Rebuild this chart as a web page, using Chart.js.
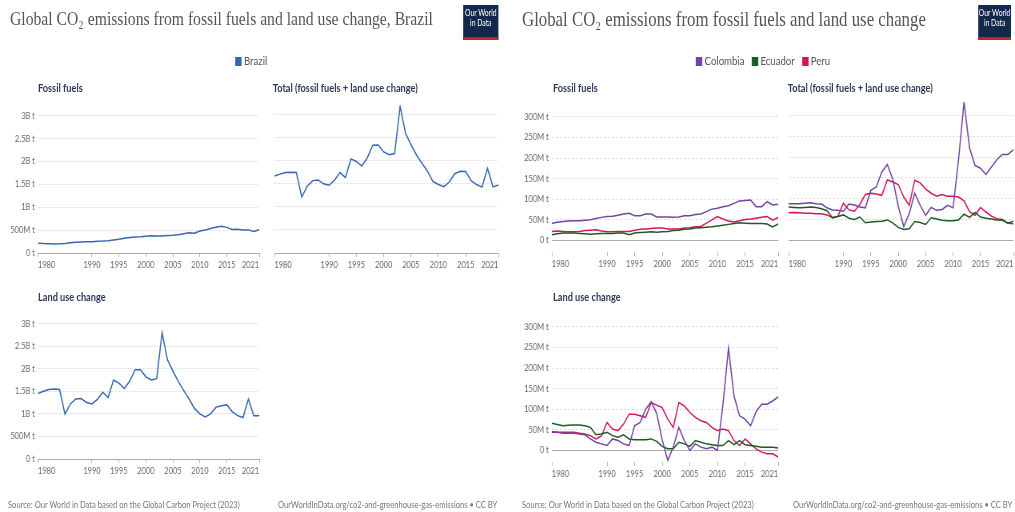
<!DOCTYPE html>
<html>
<head>
<meta charset="utf-8">
<script src="https://cdn.jsdelivr.net/npm/chart.js@4.4.0/dist/chart.umd.min.js"></script>
<style>
  body { margin: 0; width: 1015px; height: 512px; background: #fff; overflow: hidden; font-family: Lato, "Noto Sans", sans-serif; }
  .panel { position: absolute; top: 0; height: 512px; transform-origin: 0 0; transform: scaleX(0.8); }
  .title { position: absolute; top: 8px; font-family: "Liberation Serif", serif; font-size: 19.6px; color: #555; white-space: nowrap; }
  .logo { position: absolute; top: 5px; width: 44px; height: 28px; padding-top: 4px; background: #13294b; border-bottom: 3px solid #c8202e;
          color: #fff; font-size: 8.5px; line-height: 9.5px; text-align: center; }
  .legend { position: absolute; top: 53px; font-size: 12px; color: #555; white-space: nowrap; }
  .legend .sw { display: inline-block; width: 8px; height: 9px; vertical-align: -1px; margin-right: 3px; }
  .legend .item { margin-right: 9px; }
  .sub { position: absolute; font-weight: bold; font-size: 11.5px; color: #2b3a5a; white-space: nowrap; }
  .foot { position: absolute; top: 499px; font-size: 9.5px; color: #777; white-space: nowrap; }
  canvas { position: absolute; }
</style>
</head>
<body>

<div class="panel" id="pl" style="left:0;width:634px">
  <div class="title" style="left:12.5px">Global CO₂ emissions from fossil fuels and land use change, Brazil</div>
  <div class="logo" style="left:579px">Our World<br>in Data</div>
  <div class="legend" style="left:294px"><span class="item"><span class="sw" style="background:#3567b0"></span>Brazil</span></div>
  <div class="sub" style="left:47.5px;top:81px">Fossil fuels</div>
  <div class="sub" style="left:341px;top:81px">Total (fossil fuels + land use change)</div>
  <div class="sub" style="left:47.5px;top:290px">Land use change</div>
  <canvas id="brFossil"></canvas>
  <canvas id="brTotal"></canvas>
  <canvas id="brLand"></canvas>
  <div class="foot" style="left:10px">Source: Our World in Data based on the Global Carbon Project (2023)</div>
  <div class="foot" style="left:347.5px">OurWorldInData.org/co2-and-greenhouse-gas-emissions • CC BY</div>
</div>

<div class="panel" id="pr" style="left:507px;width:635px">
  <div class="title" style="left:18.75px;font-size:21px;top:7px">Global CO₂ emissions from fossil fuels and land use change</div>
  <div class="logo" style="left:589px;width:41px">Our World<br>in Data</div>
  <div class="legend" style="left:236px">
    <span class="item"><span class="sw" style="background:#7044a0"></span>Colombia</span><span class="item"><span class="sw" style="background:#1e5a23"></span>Ecuador</span><span class="item"><span class="sw" style="background:#d1165f"></span>Peru</span>
  </div>
  <div class="sub" style="left:57.5px;top:81px">Fossil fuels</div>
  <div class="sub" style="left:351px;top:81px">Total (fossil fuels + land use change)</div>
  <div class="sub" style="left:57.5px;top:290px">Land use change</div>
  <canvas id="saFossil"></canvas>
  <canvas id="saTotal"></canvas>
  <canvas id="saLand"></canvas>
  <div class="foot" style="left:18.75px">Source: Our World in Data based on the Global Carbon Project (2023)</div>
  <div class="foot" style="left:357.5px">OurWorldInData.org/co2-and-greenhouse-gas-emissions • CC BY</div>
</div>

<script>
// Years on the x axis and the ticks that get a label
const YEARS = [1980,1981,1982,1983,1984,1985,1986,1987,1988,1989,
               1990,1991,1992,1993,1994,1995,1996,1997,1998,1999,
               2000,2001,2002,2003,2004,2005,2006,2007,2008,2009,
               2010,2011,2012,2013,2014,2015,2016,2017,2018,2019,
               2020,2021];
const X_TICKS = [1980, 1990, 1995, 2000, 2005, 2010, 2015, 2021];

// Brazil, billion tonnes CO2
const BR_FOSSIL = [0.215,0.205,0.200,0.195,0.200,0.210,0.225,0.235,0.240,0.245,
                   0.245,0.255,0.260,0.270,0.285,0.300,0.320,0.340,0.350,0.355,
                   0.365,0.375,0.370,0.370,0.385,0.390,0.400,0.420,0.440,0.430,
                   0.480,0.505,0.535,0.565,0.585,0.560,0.515,0.520,0.505,0.505,
                   0.470,0.510];
const BR_LAND   = [1.45,1.50,1.54,1.55,1.54,1.00,1.22,1.33,1.34,1.25,
                   1.22,1.32,1.48,1.36,1.75,1.68,1.56,1.72,1.98,1.98,
                   1.82,1.75,1.78,2.80,2.20,1.95,1.72,1.52,1.33,1.12,
                   1.00,0.93,1.00,1.15,1.18,1.20,1.05,0.96,0.92,1.33,
                   0.96,0.96];
const BR_TOTAL  = [1.665,1.705,1.740,1.745,1.740,1.210,1.445,1.565,1.580,1.495,
                   1.465,1.575,1.740,1.630,2.035,1.980,1.880,2.060,2.330,2.335,
                   2.185,2.125,2.150,3.170,2.585,2.340,2.120,1.940,1.770,1.550,
                   1.480,1.435,1.535,1.715,1.765,1.760,1.565,1.480,1.425,1.835,
                   1.430,1.470];
const BR_Y_TICKS  = [0, 0.5, 1, 1.5, 2, 2.5, 3];
const BR_Y_LABELS = ['0 t', '500M t', '1B t', '1.5B t', '2B t', '2.5B t', '3B t'];

// Colombia, Ecuador, Peru, million tonnes CO2
const CO_FOSSIL = [42,44,46,47,48,48,49,50,53,56, 58,59,61,64,66,60,60,64,64,57,
                   57,57,56,57,60,60,63,64,70,76, 78,82,84,90,96,97,98,82,82,94, 86,88];
const EC_FOSSIL = [14,16,18,18,18,17,16,15,16,17, 17,17,18,18,14,18,19,20,21,20,
                   21,22,24,25,27,28,30,31,32,33, 35,37,39,41,43,42,41,41,41,40, 33,40];
const PE_FOSSIL = [22,23,22,21,21,22,24,25,26,23, 21,21,22,22,22,25,27,28,29,30,
                   30,28,28,28,30,31,33,34,42,50, 58,52,47,45,48,51,52,54,56,58, 49,56];

const CO_LAND = [46,44,42,42,42,40,38,28,20,16, 12,28,24,16,12,60,68,100,118,90,
                 25,-24,8,56,24,0,16,8,4,8, 0,112,248,132,84,76,60,94,112,112, 120,130];
const EC_LAND = [66,63,60,61,62,62,60,56,38,40, 44,36,32,38,28,26,26,26,28,22,
                 10,4,4,20,16,10,24,20,16,14, 12,12,24,14,24,14,12,10,8,8, 8,6];
const PE_LAND = [44,44,44,44,44,42,40,36,28,35, 68,52,48,64,88,88,84,80,116,110,
                 104,76,56,116,108,92,80,72,68,56, 48,52,48,24,12,28,16,4,-4,-8, -8,-16];

const CO_TOTAL = [88,88,88,89,90,88,87,78,73,72, 70,87,85,80,78,120,128,164,182,147,
                  82,33,64,113,84,60,79,72,74,84, 78,194,332,222,180,173,158,176,194,206, 206,218];
const EC_TOTAL = [80,79,78,79,80,79,76,71,54,57, 61,53,50,56,42,44,45,46,49,42,
                  31,26,28,45,43,38,54,51,48,47, 47,49,63,55,67,56,53,51,49,48, 41,46];
const PE_TOTAL = [66,67,66,65,65,64,64,61,54,58, 89,73,70,86,110,113,111,108,145,140,
                  134,104,84,144,138,123,113,106,110,106, 106,104,95,69,60,79,68,58,52,50, 41,40];

const SA_Y_TICKS  = [0, 50, 100, 150, 200, 250, 300];
const SA_Y_LABELS = ['0 t', '50M t', '100M t', '150M t', '200M t', '250M t', '300M t'];

const BRAZIL = '#3567b0', COLOMBIA = '#7044a0', ECUADOR = '#1e5a23', PERU = '#d1165f';

// panels are drawn wide and squeezed horizontally by the .panel transform
const SX = 0.8;
const PAD_TOP = 8, PAD_RIGHT = 4, X_AXIS_H = 22;
const tickFont = { family: 'Lato', size: 9.3 };

function series(values, color) {
  return {
    data: YEARS.map((yr, i) => ({ x: yr, y: values[i] })),
    borderColor: color, borderWidth: 1.5, pointRadius: 0, tension: 0, fill: false
  };
}

// area: plot rectangle in page pixels; panelLeft: page x of the panel
function facet(id, panelLeft, area, yLabelW, yMin, yMax, yTicks, yLabels, datasets) {
  const L = (area.l - panelLeft) / SX, R = (area.r - panelLeft) / SX;
  const cv = document.getElementById(id);
  const w = Math.round(yLabelW + (R - L) + PAD_RIGHT);
  const h = Math.round(PAD_TOP + (area.b - area.t) + X_AXIS_H);
  cv.width = w; cv.height = h;
  cv.style.left = (L - yLabelW) + 'px';
  cv.style.top = (area.t - PAD_TOP) + 'px';

  return new Chart(cv, {
    type: 'line',
    data: { datasets },
    options: {
      responsive: false, animation: false, devicePixelRatio: 1,
      layout: { padding: { top: PAD_TOP, right: PAD_RIGHT, left: 0, bottom: 0 } },
      plugins: { legend: { display: false }, tooltip: { enabled: false } },
      scales: {
        x: {
          type: 'linear', min: YEARS[0], max: YEARS[YEARS.length - 1],
          afterBuildTicks: s => { s.ticks = X_TICKS.map(v => ({ value: v })); },
          afterFit: s => { s.height = X_AXIS_H; },
          grid: { drawOnChartArea: false, drawTicks: true, tickLength: 4, tickColor: '#b8b8b8' },
          border: { display: false },
          ticks: { align: 'inner', autoSkip: false, maxRotation: 0, padding: 2,
                   color: '#666', font: tickFont, callback: v => String(v) }
        },
        y: {
          min: yMin, max: yMax,
          afterBuildTicks: s => { s.ticks = yTicks.map(v => ({ value: v })); },
          afterFit: s => { s.width = yLabelW; },
          grid: { drawTicks: false, lineWidth: 1,
                  color: c => (c.tick && c.tick.value === 0) ? '#ababab' : '#e0e0e0' },
          border: { display: false, dash: c => (c.tick && c.tick.value === 0) ? [] : [3, 2] },
          ticks: { display: yLabelW > 0, padding: 4, color: '#666', font: tickFont,
                   callback: v => yLabels[yTicks.indexOf(v)] }
        }
      }
    }
  });
}

// Brazil: shared y range across the three facets
facet('brFossil', 0, { l: 38, r: 259, t: 105, b: 253 }, 47.5, 0, 3.2, BR_Y_TICKS, BR_Y_LABELS,
      [series(BR_FOSSIL, BRAZIL)]);
facet('brTotal', 0, { l: 272.5, r: 498, t: 105, b: 253 }, 0, 0, 3.2, BR_Y_TICKS, BR_Y_LABELS,
      [series(BR_TOTAL, BRAZIL)]);
facet('brLand', 0, { l: 38, r: 259, t: 313, b: 458.5 }, 47.5, 0, 3.2, BR_Y_TICKS, BR_Y_LABELS,
      [series(BR_LAND, BRAZIL)]);

// Colombia / Ecuador / Peru
facet('saFossil', 507, { l: 552, r: 778, t: 101.7, b: 251.7 }, 56, -28, 332, SA_Y_TICKS, SA_Y_LABELS,
      [series(CO_FOSSIL, COLOMBIA), series(EC_FOSSIL, ECUADOR), series(PE_FOSSIL, PERU)]);
facet('saTotal', 507, { l: 787, r: 1013, t: 101.7, b: 251.7 }, 0, -28, 332, SA_Y_TICKS, SA_Y_LABELS,
      [series(CO_TOTAL, COLOMBIA), series(EC_TOTAL, ECUADOR), series(PE_TOTAL, PERU)]);
facet('saLand', 507, { l: 552, r: 778, t: 311.7, b: 461.7 }, 56, -28, 332, SA_Y_TICKS, SA_Y_LABELS,
      [series(CO_LAND, COLOMBIA), series(EC_LAND, ECUADOR), series(PE_LAND, PERU)]);
</script>
</body>
</html>
